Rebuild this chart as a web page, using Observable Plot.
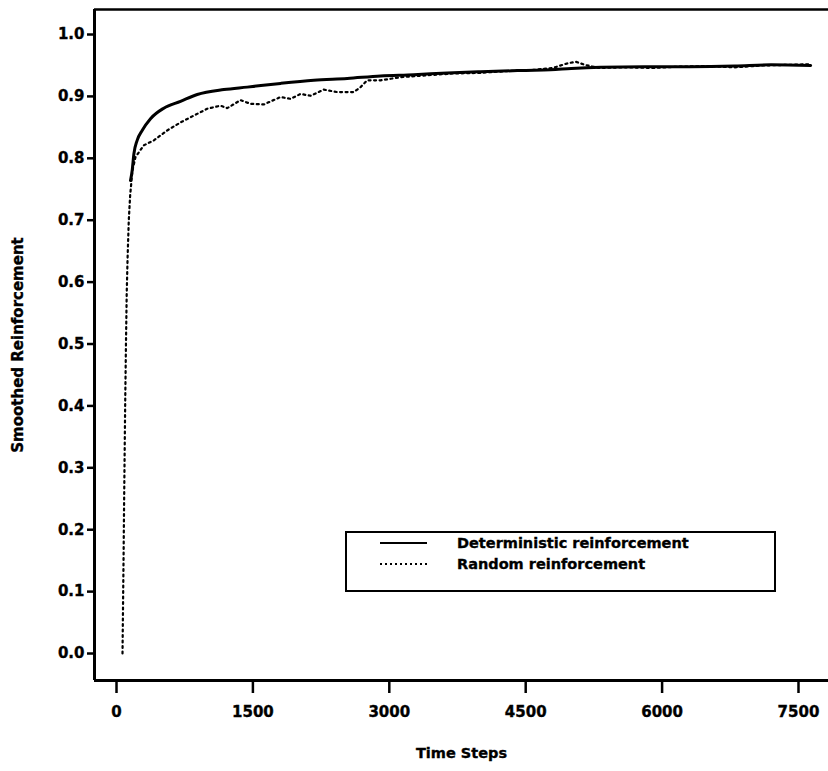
<!DOCTYPE html>
<html>
<head>
<meta charset="utf-8">
<script src="https://cdn.jsdelivr.net/npm/d3@7"></script>
<script src="https://cdn.jsdelivr.net/npm/@observablehq/plot@0.6"></script>
<style>
  html, body { margin: 0; padding: 0; background: #fff; }
  #wrap { position: relative; width: 828px; height: 771px; font-family: "DejaVu Sans", sans-serif; font-weight: bold; }
  #wrap svg text { stroke: #000; stroke-width: 0.35px; }
  #legend { position: absolute; left: 345px; top: 531px; width: 427px; height: 57px; border: 2px solid #000; background: #fff; }
  .row { position: absolute; left: 33px; display: flex; align-items: center; font-size: 14.5px; color: #000; -webkit-text-stroke: 0.35px #000; }
  .row svg { margin-right: 30px; }
</style>
</head>
<body>
<div id="wrap"></div>
<script>
// Time steps and smoothed reinforcement
const detTime = [154,172,191,227,282,374,520,704,888,1181,1437,1804,2170,2537,2904,3270,3637,4004,4500,4774,5000,5324,5800,6300,6800,7200,7634];
const detValue = [0.764,0.780,0.807,0.829,0.845,0.864,0.881,0.892,0.903,0.911,0.915,0.921,0.926,0.929,0.933,0.935,0.938,0.940,0.942,0.943,0.945,0.947,0.948,0.948,0.949,0.951,0.950];

const rndTime = [66,72,78,84,90,96,104,112,122,135,150,175,209,300,411,557,704,850,997,1144,1217,1364,1474,1620,1804,1914,2024,2134,2280,2427,2610,2684,2757,2904,3124,3400,3700,4000,4300,4600,4800,4950,5050,5150,5300,5600,5900,6200,6500,6800,7100,7400,7634];
const rndValue = [0.0,0.08,0.16,0.25,0.33,0.41,0.50,0.58,0.64,0.70,0.74,0.78,0.802,0.821,0.829,0.845,0.858,0.869,0.880,0.885,0.881,0.894,0.888,0.887,0.899,0.896,0.904,0.901,0.911,0.907,0.907,0.915,0.926,0.926,0.931,0.934,0.937,0.938,0.941,0.943,0.946,0.953,0.956,0.951,0.946,0.947,0.946,0.948,0.949,0.947,0.950,0.951,0.952];

const xTicks = [0,1500,3000,4500,6000,7500];
const yTicks = [0.0,0.1,0.2,0.3,0.4,0.5,0.6,0.7,0.8,0.9,1.0];
const seriesNames = ["Deterministic reinforcement", "Random reinforcement"];
const xTitle = "Time Steps";
const yTitle = "Smoothed Reinforcement";

const det = detTime.map((t, i) => ({t, v: detValue[i]}));
const rnd = rndTime.map((t, i) => ({t, v: rndValue[i]}));

const xDomain = [-242, 7830];
const yDomain = [-0.0436, 1.0404];

const chart = Plot.plot({
  width: 828,
  height: 771,
  marginLeft: 94,
  marginRight: 0,
  marginTop: 9,
  marginBottom: 91,
  style: {fontFamily: "DejaVu Sans, sans-serif", fontWeight: "bold", fontSize: "15px", color: "#000", background: "#fff"},
  x: {domain: xDomain, label: null},
  y: {domain: yDomain, label: null},
  marks: [
    Plot.axisX({ticks: xTicks, tickFormat: d3.format("d"), tickSize: 13, tickPadding: 13, strokeWidth: 2.5, fontSize: 15, label: null}),
    Plot.axisY({ticks: yTicks, tickFormat: d3.format(".1f"), tickSize: 7, tickPadding: 3, strokeWidth: 2.5, fontSize: 15, label: null}),
    Plot.ruleX([xDomain[0]], {stroke: "#000", strokeWidth: 3}),
    Plot.ruleY([yDomain[0]], {stroke: "#000", strokeWidth: 3}),
    Plot.ruleY([yDomain[1]], {stroke: "#000", strokeWidth: 2.5}),
    Plot.line(rnd, {x: "t", y: "v", stroke: "#000", strokeWidth: 2.2, strokeDasharray: "2,3.5", curve: "linear"}),
    Plot.line(det, {x: "t", y: "v", stroke: "#000", strokeWidth: 3, curve: "monotone-x"}),
    Plot.text([xTitle], {frameAnchor: "bottom", dy: 77, fontSize: 14.5, fontWeight: "bold", fill: "#000"}),
    Plot.text([yTitle], {frameAnchor: "left", dx: -76, rotate: -90, textAnchor: "middle", fontSize: 15, fontWeight: "bold", fill: "#000"})
  ]
});

const wrap = document.getElementById("wrap");
wrap.appendChild(chart);

const legend = document.createElement("div");
legend.id = "legend";
const dashes = [null, "2,3"];
seriesNames.forEach((name, i) => {
  const row = document.createElement("div");
  row.className = "row";
  row.style.top = (i === 0 ? 2 : 23) + "px";
  row.innerHTML = `<svg width="47" height="16"><line x1="0" x2="47" y1="8" y2="8" stroke="#000" stroke-width="${i === 0 ? 2 : 1.8}" ${dashes[i] ? `stroke-dasharray="${dashes[i]}"` : ""}/></svg><span>${name}</span>`;
  legend.appendChild(row);
});
wrap.appendChild(legend);
</script>
</body>
</html>
